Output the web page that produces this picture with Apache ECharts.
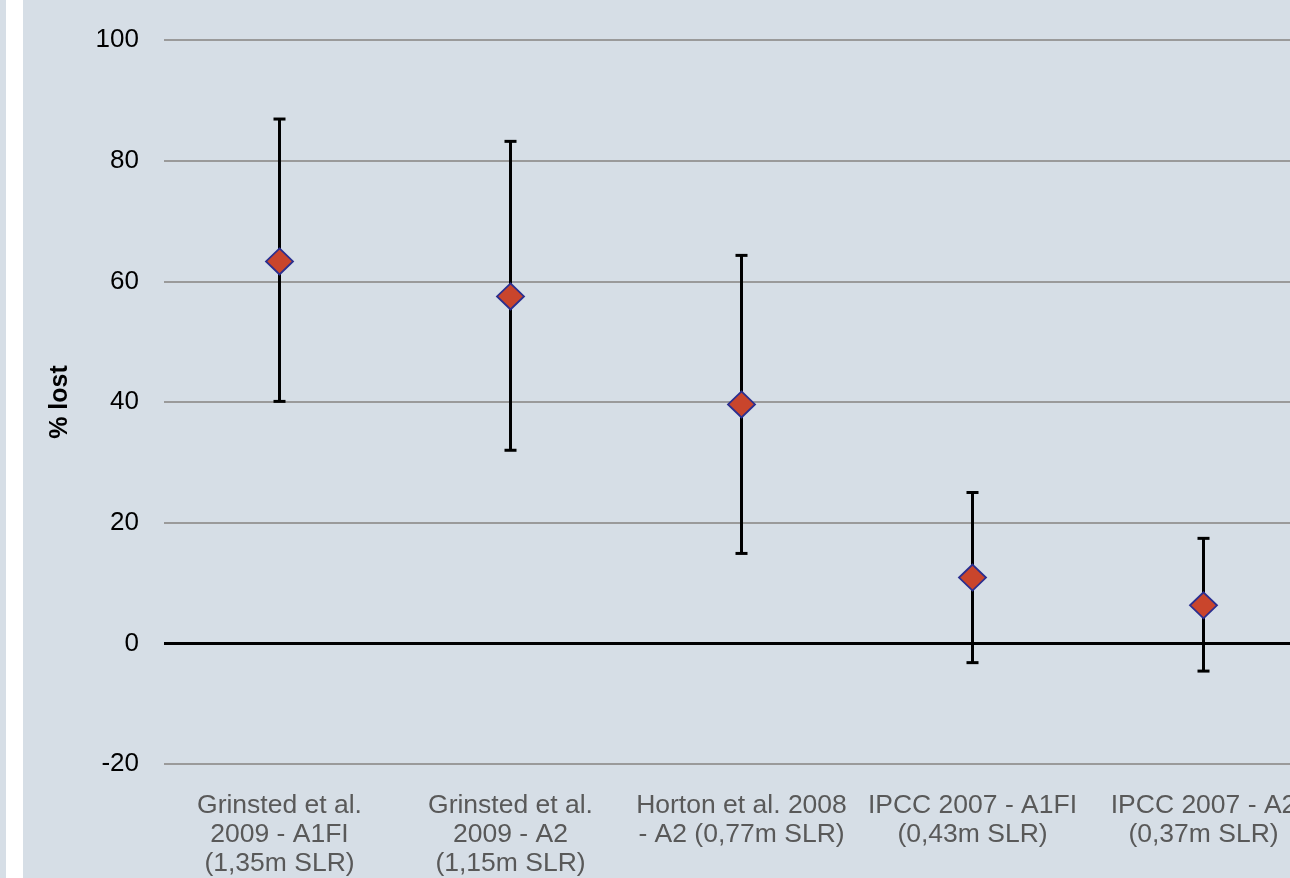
<!DOCTYPE html>
<html>
<head>
<meta charset="utf-8">
<style>
html,body{margin:0;padding:0;background:#d6dee6;overflow:hidden;width:1290px;height:878px;}
#chart{width:1340px;height:878px;}
</style>
<script src="https://cdn.jsdelivr.net/npm/echarts@6/dist/echarts.min.js"></script>
</head>
<body>
<div id="chart"></div>
<script>
var categories = [
  "Grinsted et al.\n2009 - A1FI\n(1,35m SLR)",
  "Grinsted et al.\n2009 - A2\n(1,15m SLR)",
  "Horton et al. 2008\n- A2 (0,77m SLR)",
  "IPCC 2007 - A1FI\n(0,43m SLR)",
  "IPCC 2007 - A2\n(0,37m SLR)"
];
var meanValues = [63.3, 57.5, 39.6, 10.9, 6.3];
var lowValues  = [40.1, 32.0, 14.9, -3.2, -4.6];
var highValues = [86.9, 83.2, 64.3, 25.0, 17.4];
var yTicks = [-20, 0, 20, 40, 60, 80, 100];

var FONT = "'Liberation Sans', Arial, sans-serif";
var chart = echarts.init(document.getElementById('chart'));

var errData = categories.map(function (c, i) { return [i, lowValues[i], highValues[i]]; });

chart.setOption({
  backgroundColor: '#d6dee6',
  animation: false,
  graphic: [{
    type: 'rect', left: 6, top: 0, silent: true,
    shape: { width: 17, height: 878 },
    style: { fill: '#ffffff' }
  }],
  grid: { left: 164, top: 40, width: 1155, height: 724 },
  xAxis: {
    type: 'category',
    data: categories,
    boundaryGap: true,
    axisLine: { show: false },
    axisTick: { show: false },
    axisLabel: {
      interval: 0,
      margin: 27,
      color: '#595959',
      fontFamily: FONT,
      fontSize: 26.5,
      lineHeight: 29,
      verticalAlign: 'top'
    }
  },
  yAxis: {
    type: 'value',
    min: yTicks[0],
    max: yTicks[yTicks.length - 1],
    interval: 20,
    name: '% lost',
    nameLocation: 'middle',
    nameRotate: 90,
    nameGap: 91,
    nameTextStyle: { fontFamily: FONT, fontSize: 25, fontWeight: 'bold', color: '#000' },
    axisLine: { show: false },
    axisTick: { show: false },
    axisLabel: { margin: 25, color: '#000', fontFamily: FONT, fontSize: 26 },
    splitLine: { lineStyle: { color: '#9a9a9a', width: 2 } }
  },
  series: [
    {
      type: 'custom',
      data: errData,
      z: 2,
      renderItem: function (params, api) {
        var x = api.value(0);
        var lo = api.coord([x, api.value(1)]);
        var hi = api.coord([x, api.value(2)]);
        var hw = 6;
        var st = { stroke: '#000', lineWidth: 3 };
        return {
          type: 'group',
          children: [
            { type: 'line', shape: { x1: lo[0], y1: lo[1], x2: hi[0], y2: hi[1] }, style: st },
            { type: 'line', shape: { x1: hi[0] - hw, y1: hi[1], x2: hi[0] + hw, y2: hi[1] }, style: st },
            { type: 'line', shape: { x1: lo[0] - hw, y1: lo[1], x2: lo[0] + hw, y2: lo[1] }, style: st }
          ]
        };
      }
    },
    {
      type: 'scatter',
      data: meanValues,
      z: 3,
      symbol: 'diamond',
      symbolSize: [27, 26],
      itemStyle: { color: '#c9452c', borderColor: '#2b2f8f', borderWidth: 1.8, opacity: 1 },
      markLine: {
        silent: true,
        symbol: 'none',
        label: { show: false },
        lineStyle: { color: '#000', width: 3, type: 'solid' },
        data: [{ yAxis: 0 }]
      }
    }
  ]
});
</script>
</body>
</html>
